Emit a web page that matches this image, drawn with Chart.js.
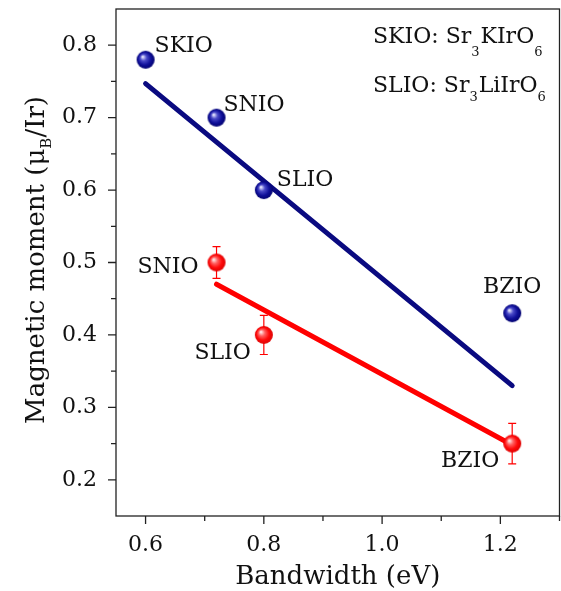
<!DOCTYPE html>
<html><head><meta charset="utf-8">
<script src="https://cdn.jsdelivr.net/npm/chart.js@4/dist/chart.umd.min.js"></script>
<style>html,body{margin:0;padding:0;background:#fff}#wrap{width:561px;height:591px;position:relative}</style>
</head><body><div id="wrap"><canvas id="c"></canvas></div>
<script>
// ---- data ----
const compoundsCalc = ['SKIO', 'SNIO', 'SLIO', 'BZIO'];
const bandwidthCalc = [0.60, 0.72, 0.80, 1.22];
const momentCalc = [0.78, 0.70, 0.60, 0.43];
const compoundsExp = ['SNIO', 'SLIO', 'BZIO'];
const bandwidthExp = [0.72, 0.80, 1.22];
const momentExp = [0.50, 0.40, 0.25];
const momentExpErr = [0.022, 0.027, 0.028];
const fitCalcX = [0.60, 1.22];
const fitCalcY = [0.747, 0.330];
const fitExpX = [0.72, 1.22];
const fitExpY = [0.470, 0.248];
const xTicks = [0.6, 0.8, 1.0, 1.2];
const xMinorTicks = [0.7, 0.9, 1.1, 1.3];
const yTicks = [0.2, 0.3, 0.4, 0.5, 0.6, 0.7, 0.8];
const yMinorTicks = [0.25, 0.35, 0.45, 0.55, 0.65, 0.75];
const legendLines = [
  [['SKIO: Sr', 0], ['3', 1], ['KIrO', 0], ['6', 1]],
  [['SLIO: Sr', 0], ['3', 1], ['LiIrO', 0], ['6', 1]]
];

// ---- styles ----
const FONT = '"DejaVu Serif", serif';
const BLUE = '#0a0a80';
const RED = '#ff0000';
const labelCalcPos = [[9, -8, 'left'], [7, -7, 'left'], [13, -4, 'left'], [0, -20, 'center']];
const labelExpPos = [[-18, 10, 'right'], [-13, 24, 'right'], [-13, 23, 'right']];

function sphere(stops) {
  const c = document.createElement('canvas');
  c.width = 20; c.height = 20;
  const g = c.getContext('2d');
  const grad = g.createRadialGradient(7, 7, 0.5, 10, 10, 9.5);
  stops.forEach(s => grad.addColorStop(s[0], s[1]));
  g.fillStyle = grad;
  g.beginPath(); g.arc(10, 10, 9, 0, Math.PI * 2); g.fill();
  return c;
}
const blueBall = sphere([[0, '#e8e8ff'], [0.3, '#4a4ac8'], [0.65, '#10109a'], [1, '#00006a']]);
const redBall = sphere([[0, '#ffe8e8'], [0.3, '#ff6060'], [0.65, '#ff0a0a'], [1, '#d80000']]);

const pts = (xs, ys) => xs.map((x, i) => ({x: x, y: ys[i]}));
const zeroPad = s => { s.paddingLeft = 0; s.paddingRight = 0; s.paddingTop = 0; s.paddingBottom = 0; };

const decor = {
  id: 'decor',
  beforeDatasetsDraw(chart) {
    const ctx = chart.ctx, xs = chart.scales.x, ys = chart.scales.y;
    ctx.save();
    ctx.strokeStyle = RED; ctx.lineWidth = 1.2;
    bandwidthExp.forEach((b, i) => {
      const px = xs.getPixelForValue(b);
      const y1 = ys.getPixelForValue(momentExp[i] + momentExpErr[i]);
      const y2 = ys.getPixelForValue(momentExp[i] - momentExpErr[i]);
      ctx.beginPath();
      ctx.moveTo(px, y1); ctx.lineTo(px, y2);
      ctx.moveTo(px - 4, y1); ctx.lineTo(px + 4, y1);
      ctx.moveTo(px - 4, y2); ctx.lineTo(px + 4, y2);
      ctx.stroke();
    });
    ctx.restore();
  },
  afterDatasetsDraw(chart) {
    const ctx = chart.ctx, xs = chart.scales.x, ys = chart.scales.y;
    ctx.save();
    ctx.fillStyle = '#111';
    ctx.font = '22px ' + FONT;
    ctx.textBaseline = 'alphabetic';
    compoundsCalc.forEach((n, i) => {
      const p = labelCalcPos[i];
      ctx.textAlign = p[2];
      ctx.fillText(n, xs.getPixelForValue(bandwidthCalc[i]) + p[0], ys.getPixelForValue(momentCalc[i]) + p[1]);
    });
    compoundsExp.forEach((n, i) => {
      const p = labelExpPos[i];
      ctx.textAlign = p[2];
      ctx.fillText(n, xs.getPixelForValue(bandwidthExp[i]) + p[0], ys.getPixelForValue(momentExp[i]) + p[1]);
    });
    ctx.restore();
  },
  afterDraw(chart) {
    const ctx = chart.ctx, a = chart.chartArea, xs = chart.scales.x, ys = chart.scales.y;
    ctx.save();
    ctx.strokeStyle = '#222'; ctx.lineWidth = 1.3;
    ctx.strokeRect(a.left, a.top, a.right - a.left, a.bottom - a.top);
    ctx.beginPath();
    xTicks.forEach(v => { const p = xs.getPixelForValue(v); ctx.moveTo(p, a.bottom); ctx.lineTo(p, a.bottom + 8); });
    xMinorTicks.forEach(v => { const p = xs.getPixelForValue(v); ctx.moveTo(p, a.bottom); ctx.lineTo(p, a.bottom + 5); });
    yTicks.forEach(v => { const p = ys.getPixelForValue(v); ctx.moveTo(a.left, p); ctx.lineTo(a.left - 8, p); });
    yMinorTicks.forEach(v => { const p = ys.getPixelForValue(v); ctx.moveTo(a.left, p); ctx.lineTo(a.left - 5, p); });
    ctx.stroke();

    // axis titles
    ctx.fillStyle = '#111';
    ctx.textBaseline = 'alphabetic';
    ctx.font = '26px ' + FONT;
    ctx.textAlign = 'center';
    ctx.fillText('Bandwidth (eV)', (a.left + a.right) / 2, 584);

    const partsY = [['Magnetic moment (\u03bc', 0], ['B', 1], ['/Ir)', 0]];
    const fMain = '26px ' + FONT, fSub = '15px ' + FONT;
    let tot = 0;
    partsY.forEach(p => { ctx.font = p[1] ? fSub : fMain; tot += ctx.measureText(p[0]).width; });
    ctx.translate(44, 260);
    ctx.rotate(-Math.PI / 2);
    ctx.textAlign = 'left';
    let x = -tot / 2;
    partsY.forEach(p => {
      ctx.font = p[1] ? fSub : fMain;
      ctx.fillText(p[0], x, p[1] ? 7 : 0);
      x += ctx.measureText(p[0]).width;
    });
    ctx.setTransform(1, 0, 0, 1, 0, 0);

    // formula notes
    const bases = [43, 92], subOff = [13, 9];
    legendLines.forEach((line, li) => {
      let cx = 373;
      line.forEach(p => {
        ctx.font = (p[1] ? '13px ' : '22px ') + FONT;
        ctx.fillText(p[0], cx, bases[li] + (p[1] ? subOff[li] : 0));
        cx += ctx.measureText(p[0]).width + (p[1] ? 1 : 0);
      });
    });
    ctx.restore();
  }
};

new Chart(document.getElementById('c'), {
  data: {
    datasets: [
      {type: 'scatter', data: pts(bandwidthCalc, momentCalc), pointStyle: blueBall, order: 0},
      {type: 'scatter', data: pts(bandwidthExp, momentExp), pointStyle: redBall, order: 0},
      {type: 'line', data: pts(fitCalcX, fitCalcY), borderColor: BLUE, borderWidth: 5, pointRadius: 0, borderCapStyle: 'round', order: 1},
      {type: 'line', data: pts(fitExpX, fitExpY), borderColor: RED, borderWidth: 5, pointRadius: 0, borderCapStyle: 'round', order: 1}
    ]
  },
  options: {
    responsive: true, maintainAspectRatio: false, animation: false,
    layout: {autoPadding: false, padding: {top: 9, right: 1.5, left: 0, bottom: 0}},
    plugins: {legend: {display: false}, tooltip: {enabled: false}},
    scales: {
      x: {
        type: 'linear', min: 0.55, max: 1.3,
        grid: {display: false}, border: {display: false},
        afterBuildTicks: s => { s.ticks = xTicks.map(v => ({value: v})); },
        afterFit: s => { s.height = 75; zeroPad(s); },
        ticks: {font: {family: FONT, size: 22}, color: '#111', padding: 8, maxRotation: 0,
                callback: v => v.toFixed(1)}
      },
      y: {
        type: 'linear', min: 0.15, max: 0.85,
        grid: {display: false}, border: {display: false},
        afterBuildTicks: s => { s.ticks = yTicks.map(v => ({value: v})); },
        afterFit: s => { s.width = 116; zeroPad(s); },
        ticks: {font: {family: FONT, size: 22}, color: '#111', padding: 11,
                callback: v => v.toFixed(1)}
      }
    }
  },
  plugins: [decor]
});
</script></body></html>
